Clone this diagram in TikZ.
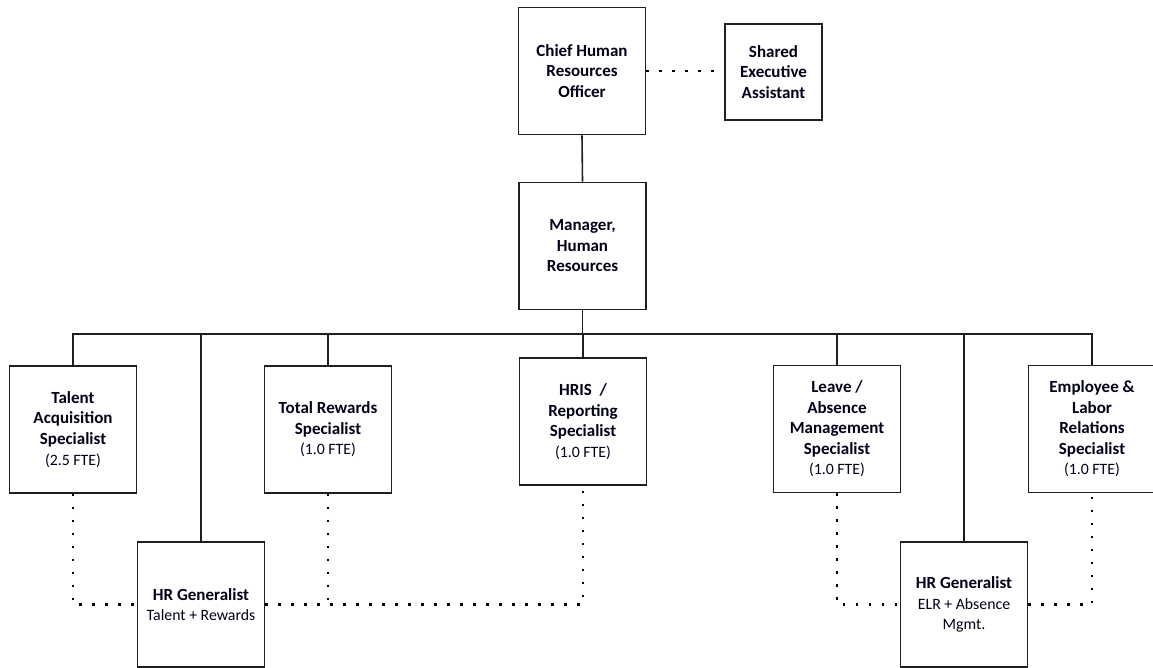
\documentclass[tikz,border=0pt]{standalone}
\usepackage{fontspec}
\setmainfont{Carlito}
\newcommand\ftetext[1]{{\fontsize{15.8}{20.5}\selectfont\mdseries #1}}
\begin{document}
\begin{tikzpicture}[x=1pt,y=-1pt,
  orgbox/.style={draw=black!88, line width=1.6pt, fill=white, align=center, inner sep=0pt,
    minimum width=127pt, minimum height=127pt, text=black!90!blue,
    font=\fontsize{17}{20.5}\selectfont\bfseries},
  solidline/.style={draw=black!88, line width=1.6pt},
  dotline/.style={draw=black, line width=2.4pt, dash pattern=on 2.4pt off 10.6pt}]
\useasboundingbox (0,0) rectangle (1153,668);
\begin{scope}
\clip (0,0) rectangle (1153,668);
% nodes
\node[orgbox] (chro) at (582,71) {Chief Human\\Resources\\Officer};
\node[orgbox, minimum width=97pt, minimum height=96pt] (shared) at (773.5,72) {Shared\\Executive\\Assistant};
\node[orgbox] (mgr) at (582.5,246) {Manager,\\Human\\Resources};
\node[orgbox] (ta) at (73,429.5) {Talent\\Acquisition\\Specialist\\[1pt]\ftetext{(2.5 FTE)}};
\node[orgbox] (tr) at (328,429.5) {Total Rewards\\Specialist\\\ftetext{(1.0 FTE)}};
\node[orgbox] (hris) at (583,421.5) {HRIS\ \ /\\Reporting\\Specialist\\\ftetext{(1.0 FTE)}};
\node[orgbox] (leave) at (837,429) {Leave /\\Absence\\Management\\Specialist\\\ftetext{(1.0 FTE)}};
\node[orgbox] (emp) at (1092,429) {Employee \&\\Labor\\Relations\\Specialist\\\ftetext{(1.0 FTE)}};
\node[orgbox, minimum height=125pt] (hrg1) at (201,604.5) {HR Generalist\\\ftetext{Talent + Rewards}};
\node[orgbox, minimum height=125pt] (hrg2) at (964,604.5) {HR Generalist\\\ftetext{ELR + Absence}\\\ftetext{Mgmt.}};
\coordinate (bar) at (582.5,334);
% solid connectors
\draw[solidline] (chro.south) -- (mgr.north);
\draw[solidline] (mgr.south) -- (bar);
\draw[solidline] (ta.north) |- (bar) -| (emp.north);
\draw[solidline] (tr.north) -- (tr.north |- bar);
\draw[solidline] (hris.north) -- (hris.north |- bar);
\draw[solidline] (leave.north) -- (leave.north |- bar);
\draw[solidline] (hrg1.north) -- (hrg1.north |- bar);
\draw[solidline] (hrg2.north) -- (hrg2.north |- bar);
% dotted connectors
\draw[dotline] (chro.east) -- (chro.east -| shared.west);
\draw[dotline] (ta.south) |- (hrg1.west);
\draw[dotline] (hrg1.east) -| (hris.south);
\draw[dotline] (tr.south) -- (tr.south |- hrg1.east);
\draw[dotline] (leave.south) |- (hrg2.west);
\draw[dotline] (hrg2.east) -| (emp.south);
\end{scope}
\end{tikzpicture}
\end{document}
